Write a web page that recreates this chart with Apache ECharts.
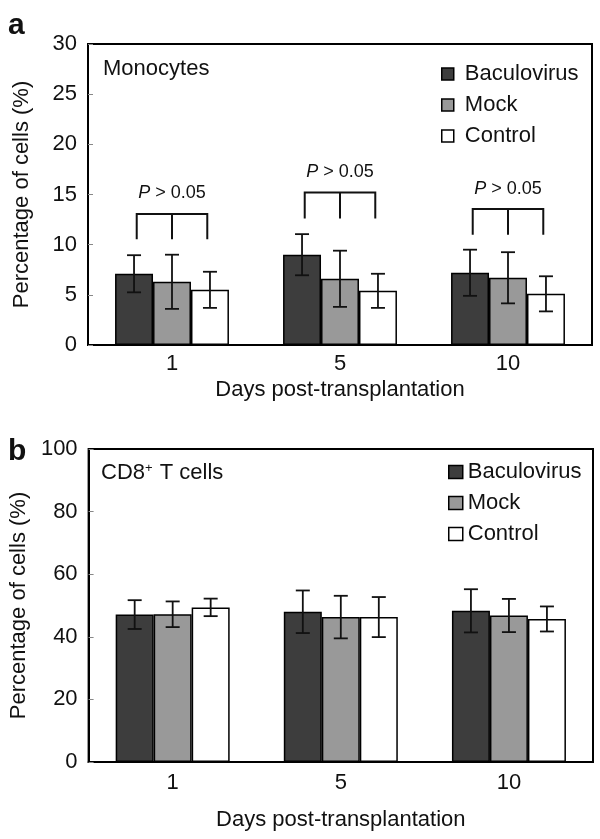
<!DOCTYPE html>
<html>
<head>
<meta charset="utf-8">
<script src="https://cdn.jsdelivr.net/npm/echarts@6/dist/echarts.min.js"></script>
<style>
  html, body { margin: 0; padding: 0; background: #fff; }
  #chart { width: 600px; height: 839px; }
</style>
</head>
<body>
<div id="chart"></div>
<script>
const days = ["1", "5", "10"];
const groups = ["Baculovirus", "Mock", "Control"];

// panel a - monocytes (%)
const monoBaculo = [7.1, 9.0, 7.2];
const monoMock = [6.3, 6.6, 6.7];
const monoControl = [5.5, 5.4, 5.1];
const monoBaculoErr = [1.85, 2.05, 2.3];
const monoMockErr = [2.7, 2.8, 2.55];
const monoControlErr = [1.8, 1.7, 1.75];

// P-value brackets over each day (panel a)
const pTop = [13.05, 15.2, 13.55];
const pLegBottom = [10.55, 12.6, 11.0];
const pLabelY = [15.1, 17.2, 15.5];

// panel b - CD8+ T cells (%)
const cd8Baculo = [47.1, 48.0, 48.3];
const cd8Mock = [47.2, 46.3, 46.8];
const cd8Control = [49.4, 46.3, 45.7];
const cd8BaculoErr = [4.6, 6.8, 6.9];
const cd8MockErr = [4.1, 6.8, 5.3];
const cd8ControlErr = [2.8, 6.4, 4.0];

const FONT = "'Liberation Sans', Arial, Helvetica, sans-serif";
const FS = 22;
const colors = ["#3d3d3d", "#999999", "#ffffff"];
const BAR_FRAC = 0.226;

const chart = echarts.init(document.getElementById("chart"));

function errData(vals, errs) {
  // [dayIndex, groupIndex, mean, sd]
  let out = [];
  vals.forEach((v, g) => {
    v.forEach((m, d) => out.push([d, g, m, errs[g][d]]));
  });
  return out;
}

function errorBarItem(params, api) {
  const d = api.value(0), g = api.value(1);
  const band = api.size([1, 0])[0];
  const dx = (g - 1) * band * BAR_FRAC;
  const hi = api.coord([d, api.value(2) + api.value(3)]);
  const lo = api.coord([d, api.value(2) - api.value(3)]);
  const x = hi[0] + dx;
  const cap = 7;
  const st = { stroke: "#111", lineWidth: 1.8 };
  return {
    type: "group",
    children: [
      { type: "line", shape: { x1: x, y1: hi[1], x2: x, y2: lo[1] }, style: st },
      { type: "line", shape: { x1: x - cap, y1: hi[1], x2: x + cap, y2: hi[1] }, style: st },
      { type: "line", shape: { x1: x - cap, y1: lo[1], x2: x + cap, y2: lo[1] }, style: st },
    ],
  };
}

function bracketItem(params, api) {
  const d = api.value(0);
  const band = api.size([1, 0])[0];
  const top = api.coord([d, api.value(1)]);
  const bot = api.coord([d, api.value(2)]);
  const lab = api.coord([d, api.value(3)]);
  const cx = top[0];
  const w = band * 0.21;
  const st = { stroke: "#111", lineWidth: 2, fill: null };
  return {
    type: "group",
    children: [
      { type: "polyline", shape: { points: [[cx - w, bot[1]], [cx - w, top[1]], [cx + w, top[1]], [cx + w, bot[1]]] }, style: st },
      { type: "line", shape: { x1: cx, y1: top[1], x2: cx, y2: bot[1] }, style: st },
      {
        type: "text",
        style: {
          x: cx, y: lab[1],
          text: "{i|P} > 0.05",
          align: "center", verticalAlign: "middle",
          fill: "#111", fontSize: 18, fontFamily: FONT,
          rich: {
            i: { fontStyle: "italic", fontSize: 18, fontFamily: FONT, fill: "#111" },
          },
        },
      },
    ],
  };
}

function barSeries(name, data, idx, color) {
  return {
    name: name,
    type: "bar",
    xAxisIndex: idx,
    yAxisIndex: idx,
    data: data,
    barWidth: "22.6%",
    barGap: "0%",
    itemStyle: { color: color, borderColor: "#000", borderWidth: 1.5 },
    emphasis: { disabled: true },
  };
}

function yAxis(idx, max, step) {
  return {
    type: "value",
    gridIndex: idx,
    min: 0, max: max, interval: step,
    name: "Percentage of cells (%)",
    nameLocation: "middle",
    nameGap: 55,
    nameTextStyle: { fontSize: FS, fontFamily: FONT, color: "#111" },
    axisLine: { show: true, lineStyle: { color: "#000", width: 2 } },
    axisTick: { show: true, inside: true, length: 5, lineStyle: { color: "#888" } },
    axisLabel: { fontSize: FS, fontFamily: FONT, color: "#111", margin: 11 },
    splitLine: { show: false },
  };
}

function xAxis(idx, labelMargin, nameGap) {
  return {
    type: "category",
    gridIndex: idx,
    data: days,
    name: "Days post-transplantation",
    nameLocation: "middle",
    nameGap: nameGap,
    nameTextStyle: { fontSize: FS, fontFamily: FONT, color: "#111" },
    axisLine: { lineStyle: { color: "#000", width: 2 } },
    axisTick: { inside: true, length: 5, lineStyle: { color: "#888" } },
    axisLabel: { fontSize: FS, fontFamily: FONT, color: "#111", margin: labelMargin },
  };
}

const legendBase = {
  orient: "vertical",
  data: groups,
  icon: "rect",
  itemGap: 9,
  selectedMode: false,
  itemStyle: { borderColor: "#000", borderWidth: 1.5 },
  textStyle: { fontSize: FS, fontFamily: FONT, color: "#111", lineHeight: 22 },
  padding: 0,
};

chart.setOption({
  animation: false,
  backgroundColor: "#fff",
  title: [
    { text: "a", left: 8, top: 11, padding: 0, textStyle: { fontSize: 30, fontWeight: "bold", fontFamily: FONT, color: "#111" } },
    { text: "b", left: 8, top: 437, padding: 0, textStyle: { fontSize: 30, fontWeight: "bold", fontFamily: FONT, color: "#111" } },
    { text: "Monocytes", left: 103, top: 58, padding: 0, textStyle: { fontSize: FS, fontWeight: "normal", fontFamily: FONT, color: "#111" } },
    {
      text: "{n|CD8}{s|+}{n| T cells}", left: 101, top: 462, padding: 0,
      textStyle: {
        fontSize: FS, fontWeight: "normal", fontFamily: FONT, color: "#111",
        rich: {
          n: { fontSize: FS, fontFamily: FONT, color: "#111" },
          s: { fontSize: 13, fontFamily: FONT, color: "#111", verticalAlign: "top", padding: [0, 1, 8, 0] },
        },
      },
    },
  ],
  legend: [
    Object.assign({}, legendBase, { left: 441, top: 63, itemWidth: 12, itemHeight: 12, formatter: (n) => " " + n }),
    Object.assign({}, legendBase, { left: 448, top: 461, itemWidth: 14, itemHeight: 13 }),
  ],
  grid: [
    { left: 88, top: 44, right: 8, height: 301, show: true, borderColor: "#000", borderWidth: 2, backgroundColor: "transparent" },
    { left: 87, top: 449, right: 7, height: 313, show: true, borderColor: "#000", borderWidth: 2, backgroundColor: "transparent" },
  ],
  xAxis: [xAxis(0, 8, 34), xAxis(1, 10, 47)],
  yAxis: [yAxis(0, 30, 5), yAxis(1, 100, 20)],
  series: [
    barSeries(groups[0], monoBaculo, 0, colors[0]),
    barSeries(groups[1], monoMock, 0, colors[1]),
    barSeries(groups[2], monoControl, 0, colors[2]),
    barSeries(groups[0], cd8Baculo, 1, colors[0]),
    barSeries(groups[1], cd8Mock, 1, colors[1]),
    barSeries(groups[2], cd8Control, 1, colors[2]),
    {
      type: "custom", xAxisIndex: 0, yAxisIndex: 0, z: 5, clip: false,
      renderItem: errorBarItem,
      data: errData([monoBaculo, monoMock, monoControl], [monoBaculoErr, monoMockErr, monoControlErr]),
    },
    {
      type: "custom", xAxisIndex: 1, yAxisIndex: 1, z: 5, clip: false,
      renderItem: errorBarItem,
      data: errData([cd8Baculo, cd8Mock, cd8Control], [cd8BaculoErr, cd8MockErr, cd8ControlErr]),
    },
    {
      type: "custom", xAxisIndex: 0, yAxisIndex: 0, z: 5, clip: false,
      renderItem: bracketItem,
      data: days.map((_, i) => [i, pTop[i], pLegBottom[i], pLabelY[i]]),
    },
  ],
});
</script>
</body>
</html>
